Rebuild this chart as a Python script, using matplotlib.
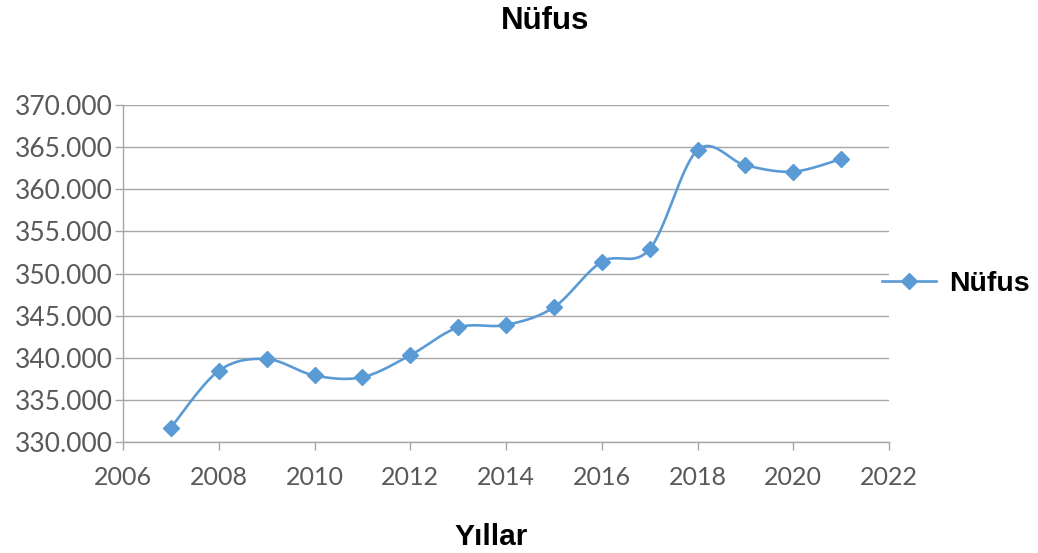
import matplotlib
matplotlib.use("Agg")
import matplotlib.pyplot as plt
from matplotlib.ticker import FuncFormatter
import numpy as np

years = [2007, 2008, 2009, 2010, 2011, 2012, 2013, 2014,
         2015, 2016, 2017, 2018, 2019, 2020, 2021]
population = [331700, 338450, 339850, 337900, 337700, 340300, 343600, 343900,
              346000, 351400, 352900, 364650, 362850, 362100, 363600]

blue = "#5b9bd5"
grid_grey = "#a6a6a6"
text_grey = "#595959"


def smooth(xs, ys, n=30):
    # excel-like smoothed line: catmull-rom as cubic bezier pieces
    xs = np.asarray(xs, float)
    ys = np.asarray(ys, float)
    pts = np.column_stack([xs, ys])
    out = [pts[0]]
    for i in range(len(pts) - 1):
        p0 = pts[i - 1] if i > 0 else pts[i]
        p1 = pts[i]
        p2 = pts[i + 1]
        p3 = pts[i + 2] if i + 2 < len(pts) else pts[i + 1]
        b1 = p1 + (p2 - p0) / 6
        b2 = p2 - (p3 - p1) / 6
        t = np.linspace(0, 1, n)[1:, None]
        seg = ((1 - t) ** 3 * p1 + 3 * (1 - t) ** 2 * t * b1
               + 3 * (1 - t) * t ** 2 * b2 + t ** 3 * p2)
        out.extend(seg)
    out = np.array(out)
    return out[:, 0], out[:, 1]


fig = plt.figure(figsize=(10.38, 5.53), dpi=100)
ax = fig.add_axes([0.1185, 0.2007, 0.738, 0.6093])

sx, sy = smooth(years, population)
ax.plot(sx, sy, color=blue, lw=1.9, zorder=3)
ax.plot(years, population, linestyle="none", marker="D", markersize=8.5,
        color=blue, zorder=4)

ax.set_xlim(2006, 2022)
ax.set_ylim(330000, 370000)
ax.set_xticks(range(2006, 2023, 2))
ax.set_yticks(range(330000, 370001, 5000))
ax.yaxis.set_major_formatter(FuncFormatter(lambda v, p: f"{int(v):,}".replace(",", ".")))

ax.grid(axis="y", color=grid_grey, lw=1)
ax.set_axisbelow(True)
for s in ["top", "right"]:
    ax.spines[s].set_visible(False)
for s in ["left", "bottom"]:
    ax.spines[s].set_color(grid_grey)
    ax.spines[s].set_linewidth(1)
ax.tick_params(axis="both", colors=grid_grey, length=6, width=1,
               labelcolor=text_grey, labelsize=18)
for lab in ax.get_xticklabels():
    lab.set_family("Lato")
for lab in ax.get_yticklabels():
    lab.set_family("Lato")
    lab.set_fontsize(19)
ax.tick_params(axis="x", pad=11)
ax.tick_params(axis="y", pad=1.5)

fig.text(0.525, 0.962, "Nüfus", ha="center", va="center",
         fontsize=22.5, fontweight="bold", family="Liberation Sans")
fig.text(0.4727, 0.029, "Yıllar", ha="center", va="center",
         fontsize=21.5, fontweight="bold", family="Liberation Sans")

# legend entry
handle, = ax.plot([], [], color=blue, lw=1.9, marker="D", markersize=8.5)
fig.legend([handle], ["Nüfus"], loc="center left",
           bbox_to_anchor=(0.8497, 0.486), bbox_transform=fig.transFigure,
           frameon=False, borderpad=0, borderaxespad=0,
           prop={"family": "Liberation Sans", "weight": "bold", "size": 20.5},
           handlelength=1.9, handletextpad=0.47)

fig.savefig("out.png", dpi=100)
